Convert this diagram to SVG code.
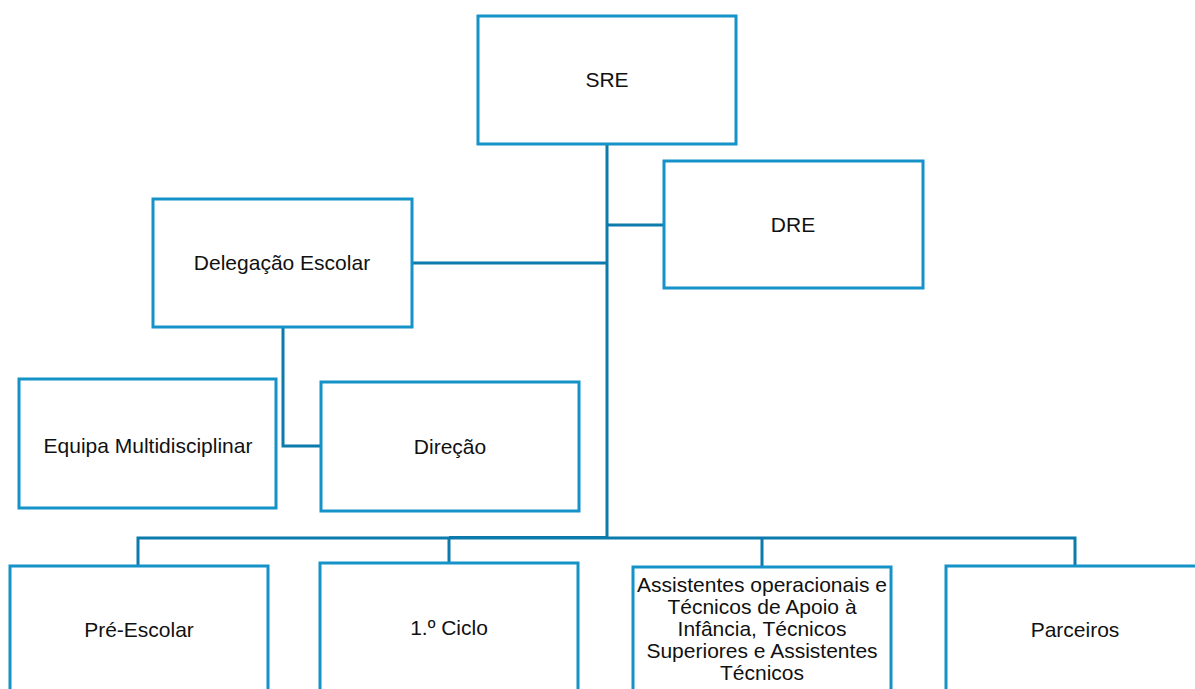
<svg xmlns="http://www.w3.org/2000/svg" width="1195" height="689" viewBox="0 0 1195 689">
<style>
.box{fill:#fff;stroke:#1592c8;stroke-width:3}
.lbl{font-family:"Liberation Sans",Arial,sans-serif;font-size:21px;fill:#111;text-anchor:middle}
.con{fill:none;stroke:#0c7aab;stroke-width:3}
</style>
<rect width="1195" height="689" fill="#fff"/>
<g id="connectors">
<path class="con" d="M607 144V538"/>
<path class="con" d="M607 225H664"/>
<path class="con" d="M412 263H607"/>
<path class="con" d="M283 327V446H321"/>
<path class="con" d="M138 566V538H1075V566"/>
<path class="con" d="M449 538V563"/>
<path class="con" d="M762 538V567"/>
<path class="con" d="M449 537.5H607" stroke-width="4"/>
</g>
<g id="sre"><rect class="box" x="478" y="16" width="258" height="128"/><text class="lbl" x="607" y="87">SRE</text></g>
<g id="dre"><rect class="box" x="664" y="161" width="259" height="127"/><text class="lbl" x="793" y="232">DRE</text></g>
<g id="delegacao"><rect class="box" x="153" y="199" width="259" height="128"/><text class="lbl" x="282" y="270">Delegação Escolar</text></g>
<g id="equipa"><rect class="box" x="19" y="379" width="257" height="129"/><text class="lbl" x="148" y="453">Equipa Multidisciplinar</text></g>
<g id="direcao"><rect class="box" x="321" y="382" width="258" height="129"/><text class="lbl" x="450" y="454">Direção</text></g>
<g id="preescolar"><rect class="box" x="10" y="566" width="258" height="140"/><text class="lbl" x="139" y="637">Pré-Escolar</text></g>
<g id="ciclo1"><rect class="box" x="320" y="563" width="258" height="140"/><text class="lbl" x="449" y="635">1.º Ciclo</text></g>
<g id="assistentes"><rect class="box" x="633" y="567" width="258" height="140"/>
<text class="lbl" x="762" y="592">Assistentes operacionais e</text>
<text class="lbl" x="762" y="614">Técnicos de Apoio à</text>
<text class="lbl" x="762" y="636">Infância, Técnicos</text>
<text class="lbl" x="762" y="658">Superiores e Assistentes</text>
<text class="lbl" x="762" y="680">Técnicos</text>
</g>
<g id="parceiros"><rect class="box" x="946" y="566" width="258" height="140"/><text class="lbl" x="1075" y="637">Parceiros</text></g>
</svg>
